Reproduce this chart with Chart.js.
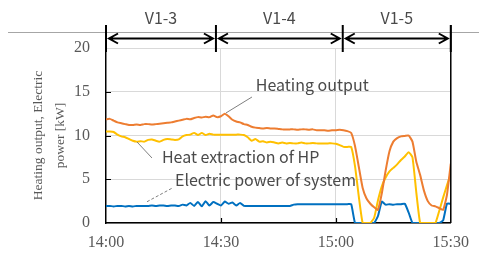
<!DOCTYPE html>
<html>
<head>
<meta charset="utf-8">
<script src="https://cdn.jsdelivr.net/npm/chart.js@4.4.1/dist/chart.umd.min.js"></script>
<style>
  html, body { margin: 0; padding: 0; background: #fff; }
  #wrap { width: 479px; height: 253px; }
</style>
</head>
<body>
<div id="wrap"><canvas id="chart" width="479" height="253"></canvas></div>
<script>
// Minutes after 14:00, one sample per minute
const minutes = Array.from({ length: 91 }, (_, i) => i);

const heatingOutput = [
  11.85, 11.9, 11.7, 11.5, 11.4, 11.3, 11.2, 11.2, 11.25, 11.2,
  11.3, 11.3, 11.25, 11.3, 11.35, 11.4, 11.45, 11.5, 11.6, 11.7,
  11.8, 11.9, 11.85, 12.0, 12.1, 12.05, 12.15, 12.1, 12.3, 12.1,
  12.2, 12.5, 12.2, 11.8, 11.6, 11.5, 11.3, 11.2, 11.0, 10.9,
  10.85, 10.8, 10.85, 10.8, 10.8, 10.75, 10.7, 10.7, 10.7, 10.7,
  10.65, 10.7, 10.7, 10.65, 10.7, 10.6, 10.6, 10.6, 10.55, 10.6,
  10.6, 10.65, 10.6, 10.5, 10.3, 8.8, 6.4, 4.0, 2.8, 2.2,
  1.8, 1.5, 3.4, 6.0, 8.2, 9.3, 9.7, 9.9, 9.95, 10.0,
  9.3, 7.0, 5.5, 3.7, 2.5, 2.0, 1.9, 1.7, 1.5, 3.2,
  6.8
];

const heatExtraction = [
  10.45, 10.45, 10.4, 10.1, 9.9, 9.8, 9.6, 9.4, 9.3, 9.35,
  9.3, 9.5, 9.55, 9.4, 9.3, 9.5, 9.6, 9.55, 9.5, 9.55,
  9.9, 10.05, 10.1, 10.3, 10.05, 10.3, 10.05, 10.2, 10.1, 10.1,
  10.1, 10.1, 10.1, 10.1, 10.1, 10.1, 10.05, 9.8, 9.4, 9.6,
  9.3, 9.35, 9.2, 9.3, 9.2, 9.1, 9.2, 9.1, 9.15, 9.1,
  9.1, 9.2, 9.1, 9.1, 9.15, 9.1, 9.1, 9.1, 9.1, 9.1,
  9.05, 8.9, 8.7, 8.7, 8.7, 6.5, 3.0, 0, 0, 0,
  0.6, 2.6, 4.2, 5.2, 5.9, 6.3, 6.7, 7.2, 7.6, 8.1,
  7.5, 3.5, 0, 0, 0, 0, 0, 1.4, 2.9, 4.3,
  5.6
];

const electricPower = [
  1.95, 1.95, 1.9, 1.95, 1.95, 1.9, 1.95, 1.9, 1.95, 1.95,
  1.95, 1.95, 2.0, 1.95, 2.0, 2.0, 1.95, 2.0, 2.0, 1.95,
  2.1, 2.0, 2.3, 1.95, 2.4, 1.9, 2.5, 2.0, 2.4, 2.2,
  2.0, 2.45, 2.2, 2.35, 2.0, 2.3, 1.95, 1.95, 1.95, 1.95,
  1.95, 1.95, 1.95, 1.95, 1.95, 1.95, 1.95, 1.95, 1.95, 2.1,
  2.15, 2.15, 2.15, 2.15, 2.15, 2.15, 2.15, 2.15, 2.15, 2.15,
  2.15, 2.15, 2.15, 2.15, 2.15, 0, 0, 0, 0, 0,
  0, 0.8, 2.45, 2.1, 2.15, 2.1, 2.15, 2.15, 2.2, 1.2,
  0, 0, 0, 0, 0, 0, 0, 0, 0.3, 2.2,
  2.2
];

const xTickLabels = { 0: '14:00', 30: '14:30', 60: '15:00', 90: '15:30' };

// Test periods across the top (minutes)
const periodBounds = [0, 28.7, 61.8, 90];
const periodNames = ['V1-3', 'V1-4', 'V1-5'];

// Callout labels: [text, textX(min), textY(kW), lineFromX, lineFromY, lineToX, lineToY, dashed]
const callouts = [
  ['Heating output', 39.1, 15.8, 31.3, 12.57, 38.1, 14.4, false],
  ['Heat extraction of HP', 14.6, 7.55, 8.1, 9.26, 12.0, 7.43, false],
  ['Electric power of system', 18.0, 4.9, 10.7, 2.43, 17.2, 3.97, true]
];

const COLORS = { heating: '#ED7D31', extraction: '#FFC000', electric: '#0070C0' };
const TEXT_GRAY = '#595959';

function toPoints(values) {
  return minutes.map((m, i) => ({ x: m, y: values[i] }));
}

const overlayPlugin = {
  id: 'overlay',
  afterDraw(chart) {
    const ctx = chart.ctx;
    const xs = chart.scales.x;
    const ys = chart.scales.y;
    const area = chart.chartArea;
    ctx.save();

    // thin gray rule behind the period brackets
    ctx.strokeStyle = '#a6a6a6';
    ctx.lineWidth = 1;
    ctx.beginPath();
    ctx.moveTo(8, 32.5);
    ctx.lineTo(479, 32.5);
    ctx.stroke();

    // inward tick marks
    ctx.strokeStyle = '#000';
    ctx.lineWidth = 1.2;
    ctx.beginPath();
    [5, 10, 15].forEach(v => {
      const y = Math.round(ys.getPixelForValue(v)) + 0.5;
      ctx.moveTo(area.left, y);
      ctx.lineTo(area.left + 5, y);
    });
    [30, 60].forEach(m => {
      const x = Math.round(xs.getPixelForValue(m)) + 0.5;
      ctx.moveTo(x, area.bottom);
      ctx.lineTo(x, area.bottom - 5);
    });
    ctx.stroke();

    // right border and axis extension up to the brackets
    ctx.lineWidth = 1.5;
    ctx.beginPath();
    ctx.moveTo(area.right, 25);
    ctx.lineTo(area.right, area.bottom);
    ctx.moveTo(area.left, 25);
    ctx.lineTo(area.left, area.top);
    ctx.stroke();

    // period brackets with double arrows
    const arrowY = 38.5;
    ctx.lineWidth = 2;
    periodBounds.forEach(m => {
      const x = xs.getPixelForValue(m);
      ctx.beginPath();
      ctx.moveTo(x, 25);
      ctx.lineTo(x, 52);
      ctx.stroke();
    });
    ctx.font = '16px "Noto Sans CJK JP", "Noto Sans", sans-serif';
    ctx.fillStyle = '#4a4a4a';
    ctx.textAlign = 'center';
    ctx.textBaseline = 'middle';
    periodNames.forEach((name, i) => {
      const x0 = xs.getPixelForValue(periodBounds[i]) + 3;
      const x1 = xs.getPixelForValue(periodBounds[i + 1]) - 3;
      ctx.beginPath();
      ctx.moveTo(x0, arrowY);
      ctx.lineTo(x1, arrowY);
      ctx.moveTo(x0 + 9, arrowY - 5);
      ctx.lineTo(x0, arrowY);
      ctx.lineTo(x0 + 9, arrowY + 5);
      ctx.moveTo(x1 - 9, arrowY - 5);
      ctx.lineTo(x1, arrowY);
      ctx.lineTo(x1 - 9, arrowY + 5);
      ctx.stroke();
      ctx.fillText(name, (x0 + x1) / 2, 18);
    });

    // callouts
    ctx.textAlign = 'left';
    ctx.strokeStyle = '#7f7f7f';
    ctx.lineWidth = 1;
    callouts.forEach(c => {
      ctx.setLineDash(c[7] ? [3, 2] : []);
      ctx.beginPath();
      ctx.moveTo(xs.getPixelForValue(c[3]), ys.getPixelForValue(c[4]));
      ctx.lineTo(xs.getPixelForValue(c[5]), ys.getPixelForValue(c[6]));
      ctx.stroke();
      ctx.fillText(c[0], xs.getPixelForValue(c[1]), ys.getPixelForValue(c[2]));
    });
    ctx.restore();
  }
};

const serif = '"Liberation Serif", "Times New Roman", serif';

new Chart(document.getElementById('chart'), {
  type: 'line',
  data: {
    datasets: [
      { label: 'Heating output', data: toPoints(heatingOutput), borderColor: COLORS.heating },
      { label: 'Heat extraction of HP', data: toPoints(heatExtraction), borderColor: COLORS.extraction },
      { label: 'Electric power of system', data: toPoints(electricPower), borderColor: COLORS.electric }
    ]
  },
  options: {
    responsive: false,
    animation: false,
    layout: { padding: { left: 0, top: 48, right: 28, bottom: 0 } },
    elements: {
      point: { radius: 0 },
      line: { borderWidth: 2, tension: 0.15 }
    },
    scales: {
      x: {
        type: 'linear',
        min: 0,
        max: 90,
        afterFit: s => { s.height = 30; },
        ticks: {
          stepSize: 30,
          padding: 10,
          color: TEXT_GRAY,
          font: { family: serif, size: 16 },
          callback: v => xTickLabels[v] || ''
        },
        grid: {
          drawTicks: false,
          color: c => (c.tick && (c.tick.value === 30 || c.tick.value === 60)) ? '#d9d9d9' : 'transparent'
        },
        border: { color: '#000', width: 1.5 }
      },
      y: {
        min: 0,
        max: 20,
        afterFit: s => { s.width = 106; },
        ticks: {
          stepSize: 5,
          padding: 16,
          color: TEXT_GRAY,
          font: { family: serif, size: 16 }
        },
        grid: { drawTicks: false, color: '#d9d9d9' },
        border: { color: '#000', width: 1.5 },
        title: {
          display: true,
          text: ['Heating output, Electric', 'power [kW]'],
          color: TEXT_GRAY,
          font: { family: serif, size: 13.5, lineHeight: '22px' },
          padding: { top: 27 }
        }
      }
    },
    plugins: {
      legend: { display: false },
      tooltip: { enabled: false }
    }
  },
  plugins: [overlayPlugin]
});
</script>
</body>
</html>
